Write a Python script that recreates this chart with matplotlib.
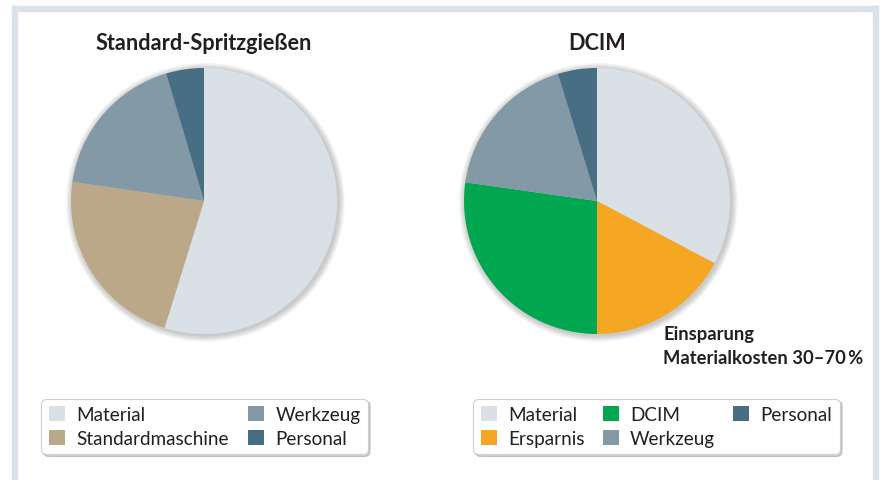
import matplotlib.pyplot as plt
from matplotlib.patches import Circle, Patch, Rectangle

plt.rcParams['font.family'] = ['Lato', 'DejaVu Sans']

# left pie: standard injection moulding
std_labels = ['Material', 'Standardmaschine', 'Werkzeug', 'Personal']
std_values = [54.8, 22.5, 18.1, 4.6]
std_colors = ['#d9e0e6', '#bba888', '#8399a6', '#476e83']

# right pie: DCIM
dcim_labels = ['Material', 'Ersparnis', 'DCIM', 'Werkzeug', 'Personal']
dcim_values = [32.75, 17.25, 27.25, 18.0, 4.75]
dcim_colors = ['#d9e0e6', '#f5a623', '#00a650', '#8399a6', '#476e83']

W, H = 880, 481
fig = plt.figure(figsize=(W / 100, H / 100), dpi=100)
fig.patch.set_facecolor('white')

# outer frame (top, left, right)
frame_col = '#dbe3ea'
fig.patches.append(Rectangle((12 / W, 1 - 12 / H), 866 / W, 5 / H, transform=fig.transFigure,
                             color=frame_col, zorder=0))
fig.patches.append(Rectangle((12 / W, 0), 5 / W, 1 - 7 / H, transform=fig.transFigure,
                             color=frame_col, zorder=0))
fig.patches.append(Rectangle((873 / W, 0), 5 / W, 1 - 7 / H, transform=fig.transFigure,
                             color=frame_col, zorder=0))


def draw_pie(cx, cy, r, values, colors):
    pad = 12
    ax = fig.add_axes([(cx - r - pad) / W, 1 - (cy + r + pad) / H,
                       2 * (r + pad) / W, 2 * (r + pad) / H])
    lim = (r + pad) / r
    ax.set_aspect('equal')
    ax.axis('off')
    # soft shadow
    for i in range(7):
        ax.add_patch(Circle((0.01, -0.01), 1.0 + 0.007 * (7 - i), color='black',
                            alpha=0.03, lw=0, zorder=0))
    ax.pie(values, colors=colors, startangle=90, counterclock=False, radius=1.0,
           wedgeprops=dict(linewidth=0))
    ax.set_xlim(-lim, lim)
    ax.set_ylim(-lim, lim)
    return ax


draw_pie(204, 202, 133, std_values, std_colors)
draw_pie(597, 202, 133, dcim_values, dcim_colors)

txt_col = '#231f20'
fig.text(204 / W, 1 - 44 / H, 'Standard-Spritzgießen', ha='center', va='center',
         fontsize=15.6, fontweight='bold', color=txt_col)
fig.text(597 / W, 1 - 44 / H, 'DCIM', ha='center', va='center',
         fontsize=15.6, fontweight='bold', color=txt_col)
fig.text(663 / W, 1 - 335 / H, 'Einsparung', ha='left', va='center',
         fontsize=13.2, fontweight='bold', color=txt_col)
fig.text(663 / W, 1 - 358 / H, 'Materialkosten 30–70\u2009%', ha='left', va='center',
         fontsize=13.2, fontweight='bold', color=txt_col)


def add_legend(labels, colors, order, ncol, x0, x1, y0, y1):
    handles = [Patch(facecolor=colors[i], edgecolor='none', label=labels[i]) for i in order]
    leg = fig.legend(handles=handles, ncol=ncol, loc='center', mode='expand',
                     bbox_to_anchor=(x0 / W, 1 - y1 / H, (x1 - x0) / W, (y1 - y0) / H),
                     frameon=True, fancybox=True,
                     shadow={'ox': 1.5, 'oy': -1.5, 'color': '#000000', 'alpha': 0.18},
                     fontsize=13.6,
                     handlelength=0.85, handleheight=0.85, handletextpad=0.6,
                     labelspacing=0.35, borderpad=0.4, borderaxespad=0, columnspacing=1.0,
                     labelcolor=txt_col)
    fr = leg.get_frame()
    fr.set_edgecolor('#cfcfcf')
    fr.set_linewidth(0.8)
    fr.set_boxstyle('round,pad=0.0,rounding_size=0.3')
    return leg


# left legend: column order Material, Standardmaschine | Werkzeug, Personal
add_legend(std_labels, std_colors, [0, 1, 2, 3], 2, 41, 368, 398, 457)
# right legend: Material, Ersparnis | DCIM, Werkzeug | Personal
add_legend(dcim_labels, dcim_colors, [0, 1, 2, 3, 4], 3, 473, 840, 398, 457)

fig.savefig('out.png', dpi=100)
